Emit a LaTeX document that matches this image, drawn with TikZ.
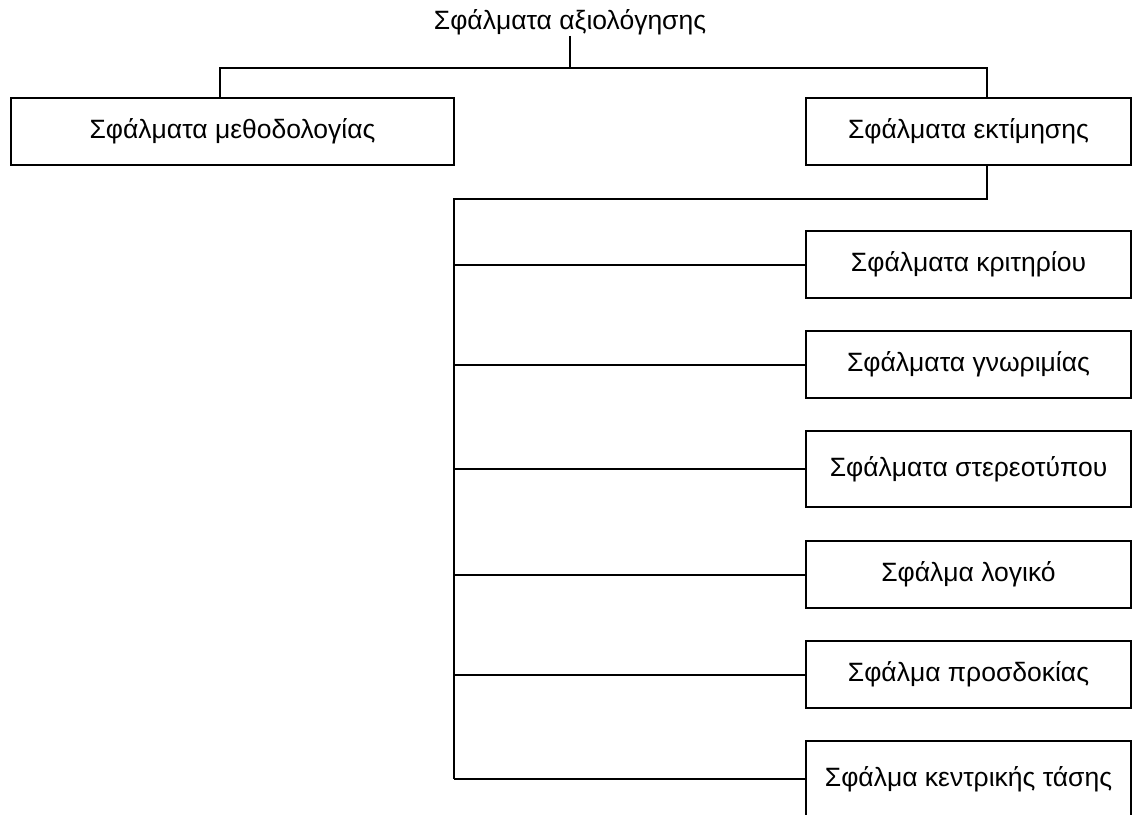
\documentclass[tikz,border=0pt]{standalone}
\usepackage{fontspec}
\setmainfont{Liberation Sans}
\usetikzlibrary{positioning}

\begin{document}
\begin{tikzpicture}[
  x=1pt, y=-1pt,
  box/.style  = {draw, line width=2pt, minimum width=325pt, minimum height=67pt, inner sep=0pt, font=\fontsize{26.5}{30}\selectfont},
  tall/.style = {box, minimum height=76pt},
  head/.style = {font=\fontsize{26.5}{30}\selectfont, inner sep=1pt},
  link/.style = {line width=2pt},
  stem/.style = {line width=1.2pt}
]
\useasboundingbox (0,0) rectangle (1134,814);

% ================= top level =================
\node[head] (root) at (570,22) {Σφάλματα αξιολόγησης};
\node[box, minimum width=443pt] (meth) at (232.5,131.5) {Σφάλματα μεθοδολογίας};
\node[box] (est) at (968.5,131.5) {Σφάλματα εκτίμησης};

\coordinate (busL) at (220,68);
\coordinate (busR) at (987,68);
\draw[stem] (root.south) -- (root.south |- busL);
\draw[link] (meth.north -| busL) -- (busL) -- (busR) -- (est.north -| busR);

% ================= estimation errors =================
\node[box]  (crit) at (968.5,264.5) {Σφάλματα κριτηρίου};
\node[box]  (fam)  at (968.5,364.5) {Σφάλματα γνωριμίας};
\node[tall] (ster) at (968.5,469)   {Σφάλματα στερεοτύπου};
\node[box]  (logi) at (968.5,574.5) {Σφάλμα λογικό};
\node[box]  (expc) at (968.5,674.5) {Σφάλμα προσδοκίας};
\node[tall] (cent) at (968.5,779)   {Σφάλμα κεντρικής τάσης};

\coordinate (trunk) at (454,199);
\draw[link] (est.south -| busR) |- (trunk) -- (trunk |- cent);
\foreach \c in {crit,fam,ster,logi,expc,cent}
  \draw[link] (trunk |- \c) -- (\c.west);

\end{tikzpicture}
\end{document}
